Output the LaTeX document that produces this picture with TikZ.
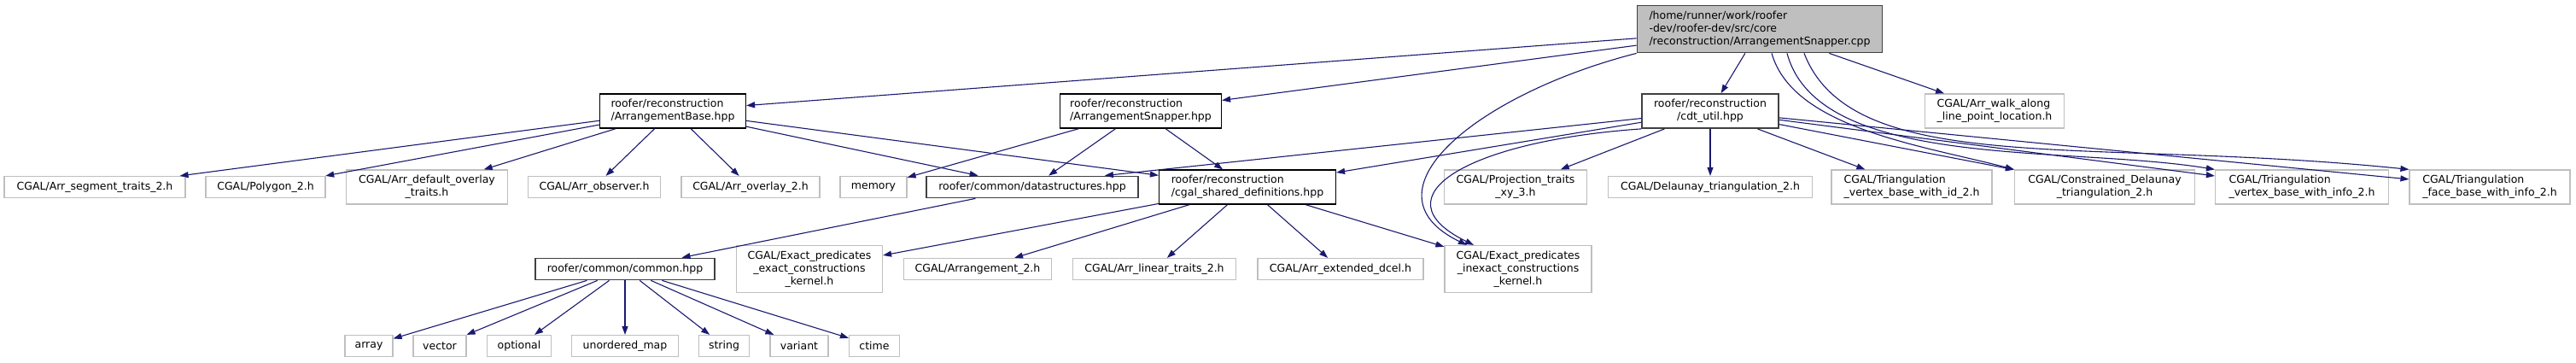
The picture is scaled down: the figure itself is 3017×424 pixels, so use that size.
\documentclass[tikz,border=0pt]{standalone}
\usepackage{fontspec}
\setmainfont{DejaVu Sans}
\usepackage{tikz}
\usetikzlibrary{arrows.meta, positioning, calc}

\definecolor{edgeblue}{HTML}{191970}
\definecolor{grey75}{HTML}{BFBFBF}
\definecolor{grey25}{HTML}{404040}

\begin{document}
\begin{tikzpicture}[
  x=1pt, y=-1pt,
  every node/.style={font=\fontsize{12.5}{15}\selectfont, inner sep=0pt},
  hdr/.style={draw=grey75, line width=1.2pt, fill=white, align=center},
  inc/.style={draw=black, line width=1.2pt, fill=white, align=center},
  incdk/.style={draw=grey25, line width=1.8pt, fill=white, align=center},
  srcfile/.style={draw=grey25, line width=1.8pt, fill=grey75, align=left},
  h1/.style={minimum height=25pt},
  h2/.style={minimum height=40pt},
  h3/.style={minimum height=55pt},
  arr/.style={-{Triangle[length=10pt,width=7pt]}, edgeblue, line width=1.1pt}
]
  \useasboundingbox (0,0) rectangle (3017,424);

  % ----- Source file (rank 0) -----
  \node[srcfile, h3, minimum width=287pt] (src) at (2061,34) {/home/runner/work/roofer\\-dev/roofer-dev/src/core\\/reconstruction/ArrangementSnapper.cpp};

  % ----- Direct includes (rank 1) -----
  \node[inc, h2, minimum width=171pt, align=left] (base)     at (788,130)  {roofer/reconstruction\\/ArrangementBase.hpp};
  \node[inc, h2, minimum width=189pt, align=left] (snapperh) at (1336,130) {roofer/reconstruction\\/ArrangementSnapper.hpp};
  \node[incdk, h2, minimum width=160pt]           (cdt)      at (2003,130) {roofer/reconstruction\\/cdt\_util.hpp};
  \node[hdr, h2, minimum width=163pt, align=left] (walk)     at (2336,130) {CGAL/Arr\_walk\_along\\\_line\_point\_location.h};

  % ----- Rank 2 -----
  \node[hdr, h1, minimum width=212pt] (segtraits)  at (111,219)  {CGAL/Arr\_segment\_traits\_2.h};
  \node[hdr, h1, minimum width=140pt] (polygon)    at (311,219)  {CGAL/Polygon\_2.h};
  \node[hdr, h2, minimum width=189pt] (defoverlay) at (500,219)  {CGAL/Arr\_default\_overlay\\\_traits.h};
  \node[hdr, h1, minimum width=155pt] (observer)   at (696,219)  {CGAL/Arr\_observer.h};
  \node[hdr, h1, minimum width=162pt] (overlay)    at (879,219)  {CGAL/Arr\_overlay\_2.h};
  \node[hdr, h1, minimum width=78pt]  (memory)     at (1023,219) {memory};
  \node[incdk, h1, minimum width=248pt] (datastr)  at (1209,219) {roofer/common/datastructures.hpp};
  \node[inc, h2, minimum width=207pt, align=left] (cgalshared) at (1461,219) {roofer/reconstruction\\/cgal\_shared\_definitions.hpp};
  \node[hdr, h2, minimum width=167pt] (projtraits) at (1775,219) {CGAL/Projection\_traits\\\_xy\_3.h};
  \node[hdr, h1, minimum width=239pt] (delaunay)   at (2003,219) {CGAL/Delaunay\_triangulation\_2.h};
  \node[hdr, h2, minimum width=188pt, align=left] (vbaseid)   at (2239,219) {CGAL/Triangulation\\\_vertex\_base\_with\_id\_2.h};
  \node[hdr, h2, minimum width=211pt] (constrained) at (2465,219) {CGAL/Constrained\_Delaunay\\\_triangulation\_2.h};
  \node[hdr, h2, minimum width=203pt, align=left] (vbaseinfo) at (2696,219) {CGAL/Triangulation\\\_vertex\_base\_with\_info\_2.h};
  \node[hdr, h2, minimum width=188pt, align=left] (fbaseinfo) at (2916,219) {CGAL/Triangulation\\\_face\_base\_with\_info\_2.h};

  % ----- Rank 3 -----
  \node[incdk, h1, minimum width=210pt] (common) at (732,315)  {roofer/common/common.hpp};
  \node[hdr, h3, minimum width=171pt] (exactk)   at (948,315)  {CGAL/Exact\_predicates\\\_exact\_constructions\\\_kernel.h};
  \node[hdr, h1, minimum width=173pt] (arrangement) at (1145,315) {CGAL/Arrangement\_2.h};
  \node[hdr, h1, minimum width=191pt] (linear)   at (1352,315) {CGAL/Arr\_linear\_traits\_2.h};
  \node[hdr, h1, minimum width=194pt] (extdcel)  at (1570,315) {CGAL/Arr\_extended\_dcel.h};
  \node[hdr, h3, minimum width=172pt] (inexactk) at (1778,315) {CGAL/Exact\_predicates\\\_inexact\_constructions\\\_kernel.h};

  % ----- Rank 4 (std headers) -----
  \node[hdr, h1, minimum width=56pt]  (array)    at (432,405)  {array};
  \node[hdr, h1, minimum width=62pt]  (vector)   at (515,405)  {vector};
  \node[hdr, h1, minimum width=75pt]  (optional) at (608,405)  {optional};
  \node[hdr, h1, minimum width=125pt] (umap)     at (732,405)  {unordered\_map};
  \node[hdr, h1, minimum width=59pt]  (string)   at (848,405)  {string};
  \node[hdr, h1, minimum width=68pt]  (variant)  at (936,405)  {variant};
  \node[hdr, h1, minimum width=59pt]  (ctime)    at (1024,405) {ctime};

  % ----- Source file -> includes -----
  \draw[arr] (src) -- (base);
  \draw[arr] (src) -- (snapperh);
  \draw[arr] (src) -- (cdt);
  \draw[arr] (src) -- (walk);
  \draw[arr] (src.south west) .. controls (1730,110) and (1590,225) .. ([xshift=-60pt]inexactk.north);
  \draw[arr] ([xshift=14pt]src.south) .. controls (2100,150) and (2250,170) .. (constrained.north west);
  \draw[arr] ([xshift=32pt]src.south) .. controls (2130,200) and (2420,170) .. (vbaseinfo.north west);
  \draw[arr] ([xshift=52pt]src.south) .. controls (2170,210) and (2450,160) .. (fbaseinfo.north west);

  % ----- ArrangementBase.hpp -----
  \draw[arr] (base) -- (segtraits);
  \draw[arr] (base) -- (polygon);
  \draw[arr] (base) -- (defoverlay);
  \draw[arr] (base) -- (observer);
  \draw[arr] (base) -- (overlay);
  \draw[arr] (base) -- (datastr);
  \draw[arr] (base) -- (cgalshared);

  % ----- ArrangementSnapper.hpp -----
  \draw[arr] (snapperh) -- (memory);
  \draw[arr] (snapperh) -- (datastr);
  \draw[arr] (snapperh) -- (cgalshared);

  % ----- cdt_util.hpp -----
  \draw[arr] (cdt) -- ([xshift=-40pt]datastr.north east);
  \draw[arr] (cdt) -- (cgalshared);
  \draw[arr] (cdt.south west) .. controls (1720,165) and (1610,230) .. ([xshift=-52pt]inexactk.north);
  \draw[arr] (cdt) -- (projtraits);
  \draw[arr] (cdt) -- (delaunay);
  \draw[arr] (cdt) -- (vbaseid);
  \draw[arr] (cdt) -- (constrained);
  \draw[arr] (cdt) -- (vbaseinfo);
  \draw[arr] (cdt) -- (fbaseinfo);

  % ----- datastructures.hpp / cgal_shared_definitions.hpp -----
  \draw[arr] (datastr) -- (common);
  \draw[arr] (cgalshared) -- (exactk);
  \draw[arr] (cgalshared) -- (arrangement);
  \draw[arr] (cgalshared) -- (linear);
  \draw[arr] (cgalshared) -- (extdcel);
  \draw[arr] (cgalshared) -- (inexactk);

  % ----- common.hpp -----
  \draw[arr] (common) -- (array);
  \draw[arr] (common) -- (vector);
  \draw[arr] (common) -- (optional);
  \draw[arr] (common) -- (umap);
  \draw[arr] (common) -- (string);
  \draw[arr] (common) -- (variant);
  \draw[arr] (common) -- (ctime);
\end{tikzpicture}
\end{document}
